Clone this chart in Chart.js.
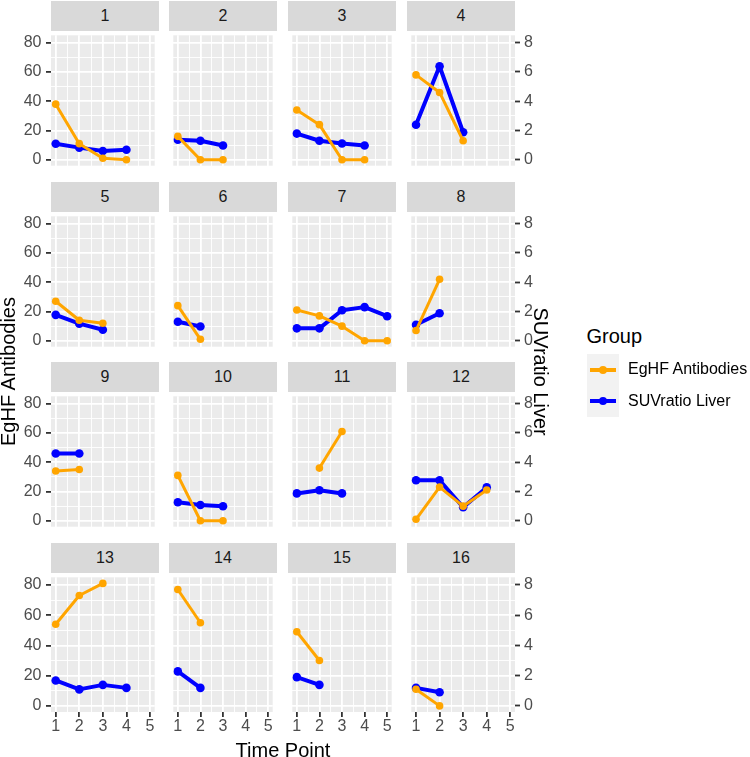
<!DOCTYPE html>
<html>
<head>
<meta charset="utf-8">
<script src="https://cdn.jsdelivr.net/npm/chart.js@4.4.1/dist/chart.umd.min.js"></script>
<style>
  html, body { margin: 0; padding: 0; background: #fff; }
  body { width: 750px; height: 757px; position: relative; overflow: hidden; font-family: "Liberation Sans", Arial, sans-serif; }
  .abs { position: absolute; }
  .strip { position: absolute; background: #d9d9d9; color: #1a1a1a; font-size: 16px; text-align: center; line-height: 30px; }
  .title { position: absolute; font-size: 20px; color: #000; white-space: nowrap; line-height: 23px; text-align: center; }
  .lg-text { position: absolute; font-size: 16px; color: #000; white-space: nowrap; line-height: 18px; }
</style>
</head>
<body>
<div id="wrap"></div>
<script>
// facet data, one entry per patient, values per time point 1..5
const panels = ['1','2','3','4','5','6','7','8','9','10','11','12','13','14','15','16'];
const timePoints = [1, 2, 3, 4, 5];
const antibodies = [
  [38, 11, 1, 0],
  [16, 0, 0],
  [34, 24, 0, 0],
  [58, 46, 13],
  [27, 14, 12],
  [24, 1],
  [21, 17, 10, 0, 0],
  [7, 42],
  [34, 35],
  [31, 0, 0],
  [null, 36, 61],
  [1, 23, 10, 21],
  [54, 73, 81],
  [77, 55],
  [49, 30],
  [11, 0]
];
const suvLiver = [
  [1.09, 0.83, 0.60, 0.68],
  [1.37, 1.30, 0.98],
  [1.79, 1.30, 1.11, 0.98],
  [2.39, 6.39, 1.88],
  [1.77, 1.17, 0.75],
  [1.30, 0.98],
  [0.85, 0.85, 2.09, 2.30, 1.68],
  [1.09, 1.88],
  [4.60, 4.60],
  [1.27, 1.08, 0.99],
  [1.87, 2.09, 1.87],
  [2.77, 2.77, 0.92, 2.28],
  [1.68, 1.09, 1.39, 1.19],
  [2.28, 1.19],
  [1.90, 1.39],
  [1.19, 0.90]
];
const xMajor = [1, 2, 3, 4, 5];
const xMinor = [1.5, 2.5, 3.5, 4.5];
const yMajor = [0, 20, 40, 60, 80];
const yMinor = [10, 30, 50, 70];
const y2Major = [0, 2, 4, 6, 8];
const seriesNames = ['EgHF Antibodies', 'SUVratio Liver'];

const ORANGE = '#ffa500', BLUE = '#0000ff';

// panel geometry (ggplot facet_wrap, 4 x 4)
const PL = [51, 169, 288, 407], PW = 108;
const PT = [31, 212, 392, 573], PH = 139;
const RIGHT_EDGE = 560, BOTTOM_EDGE = 745;

Chart.defaults.font.family = '"Liberation Sans", Arial, sans-serif';
Chart.defaults.font.size = 16;
Chart.defaults.color = '#4d4d4d';

const panelBg = {
  id: 'panelBg',
  beforeDraw(chart){
    const {ctx, chartArea: a} = chart;
    ctx.save();
    ctx.fillStyle = '#ebebeb';
    ctx.fillRect(a.left, a.top, a.right - a.left, a.bottom - a.top);
    ctx.restore();
  }
};

function fixSize(prop, val){
  return s => {
    s[prop] = val;
    s.paddingTop = 0; s.paddingBottom = 0; s.paddingLeft = 0; s.paddingRight = 0;
  };
}

const wrap = document.getElementById('wrap');

panels.forEach((name, i) => {
  const r = Math.floor(i / 4), c = i % 4;
  const left = c === 0 ? 0 : PL[c];
  const right = c === 3 ? RIGHT_EDGE : PL[c] + PW;
  const top = PT[r];
  const bottom = r === 3 ? BOTTOM_EDGE : PT[r] + PH;
  const yW = c === 0 ? PL[0] : 0;
  const y2W = c === 3 ? RIGHT_EDGE - (PL[3] + PW) : 0;
  const xH = r === 3 ? BOTTOM_EDGE - (PT[3] + PH) : 0;

  // strip
  const st = document.createElement('div');
  st.className = 'strip';
  st.style.left = PL[c] + 'px';
  st.style.top = (PT[r] - 30) + 'px';
  st.style.width = PW + 'px';
  st.style.height = '30px';
  st.textContent = name;
  wrap.appendChild(st);

  const cv = document.createElement('canvas');
  cv.width = right - left; cv.height = bottom - top;
  cv.className = 'abs';
  cv.style.left = left + 'px'; cv.style.top = top + 'px';
  wrap.appendChild(cv);

  const toPts = arr => arr.map((v, k) => ({x: timePoints[k], y: v}));

  new Chart(cv, {
    type: 'line',
    data: {
      datasets: [
        { label: seriesNames[0], data: toPts(antibodies[i]), yAxisID: 'y',
          borderColor: ORANGE, backgroundColor: ORANGE, borderWidth: 3, borderJoinStyle: 'round',
          pointRadius: 3.8, pointBorderWidth: 0, pointBackgroundColor: ORANGE, spanGaps: false, tension: 0 },
        { label: seriesNames[1], data: toPts(suvLiver[i]), yAxisID: 'y2',
          borderColor: BLUE, backgroundColor: BLUE, borderWidth: 4, borderJoinStyle: 'round',
          pointRadius: 4.3, pointBorderWidth: 0, pointBackgroundColor: BLUE, spanGaps: false, tension: 0 }
      ]
    },
    plugins: [panelBg],
    options: {
      responsive: false, animation: false, devicePixelRatio: 1,
      layout: { padding: 0 },
      events: [],
      plugins: { legend: { display: false }, tooltip: { enabled: false } },
      scales: {
        x: {
          type: 'linear', min: 0.8, max: 5.2,
          afterBuildTicks: s => { s.ticks = xMajor.concat(xMinor).sort((a,b)=>a-b).map(v => ({value: v})); },
          afterFit: fixSize('height', xH),
          border: { display: false },
          grid: {
            color: '#ffffff',
            lineWidth: ctx => xMajor.includes(ctx.tick.value) ? 1.8 : 0.9,
            drawTicks: r === 3, tickLength: 5,
            tickColor: ctx => xMajor.includes(ctx.tick.value) ? '#333333' : 'rgba(0,0,0,0)',
            tickWidth: 1.8
          },
          ticks: { display: r === 3, padding: 0, autoSkip: false, maxRotation: 0,
                   callback: v => xMajor.includes(v) ? String(v) : '' }
        },
        y: {
          type: 'linear', position: 'left', min: -4.05, max: 85.05,
          afterBuildTicks: s => { s.ticks = yMajor.concat(yMinor).sort((a,b)=>a-b).map(v => ({value: v})); },
          afterFit: fixSize('width', yW),
          border: { display: false },
          grid: {
            color: '#ffffff',
            lineWidth: ctx => yMajor.includes(ctx.tick.value) ? 1.8 : 0.9,
            drawTicks: c === 0, tickLength: 5,
            tickColor: ctx => yMajor.includes(ctx.tick.value) ? '#333333' : 'rgba(0,0,0,0)',
            tickWidth: 1.8
          },
          ticks: { display: c === 0, padding: 4.5, autoSkip: false,
                   callback: v => yMajor.includes(v) ? String(v) : '' }
        },
        y2: {
          type: 'linear', position: 'right', min: -0.405, max: 8.505,
          display: c === 3,
          afterBuildTicks: s => { s.ticks = y2Major.map(v => ({value: v})); },
          afterFit: fixSize('width', y2W),
          border: { display: false },
          grid: { drawOnChartArea: false, drawTicks: true, tickLength: 5, tickColor: '#333333', tickWidth: 1.8 },
          ticks: { padding: 4, autoSkip: false, callback: v => String(v) }
        }
      }
    }
  });
});

// axis titles
function addTitle(text, cx, cy, rot){
  const d = document.createElement('div');
  d.className = 'title';
  d.textContent = text;
  wrap.appendChild(d);
  const w = d.offsetWidth;
  d.style.width = w + 'px';
  d.style.left = (cx - w / 2) + 'px';
  d.style.top = (cy - 11.5) + 'px';
  if(rot) d.style.transform = 'rotate(' + rot + 'deg)';
}
addTitle('EgHF Antibodies', 8.5, 371, -90);
addTitle(seriesNames[1], 539.5, 371, 90);
addTitle('Time Point', 283, 750, 0);

// legend
const lgTitle = document.createElement('div');
lgTitle.className = 'title';
lgTitle.style.left = '586.5px'; lgTitle.style.top = '325px'; lgTitle.style.textAlign = 'left';
lgTitle.textContent = 'Group';
wrap.appendChild(lgTitle);

[ORANGE, BLUE].forEach((col, k) => {
  const ky = 354 + k * 31.5;
  const box = document.createElement('div');
  box.className = 'abs';
  box.style.cssText += `left:587px;top:${ky}px;width:32px;height:31.5px;background:#f2f2f2;`;
  const line = document.createElement('div');
  line.className = 'abs';
  line.style.cssText += `left:3px;top:${15.75 - 2}px;width:26px;height:4px;background:${col};`;
  const dot = document.createElement('div');
  dot.className = 'abs';
  dot.style.cssText += `left:${16 - 4.2}px;top:${15.75 - 4.2}px;width:8.4px;height:8.4px;border-radius:50%;background:${col};`;
  box.appendChild(line); box.appendChild(dot);
  wrap.appendChild(box);
  const t = document.createElement('div');
  t.className = 'lg-text';
  t.style.left = '628px';
  t.style.top = (ky + 15.75 - 9.5) + 'px';
  t.textContent = seriesNames[k];
  wrap.appendChild(t);
});
</script>
</body>
</html>
